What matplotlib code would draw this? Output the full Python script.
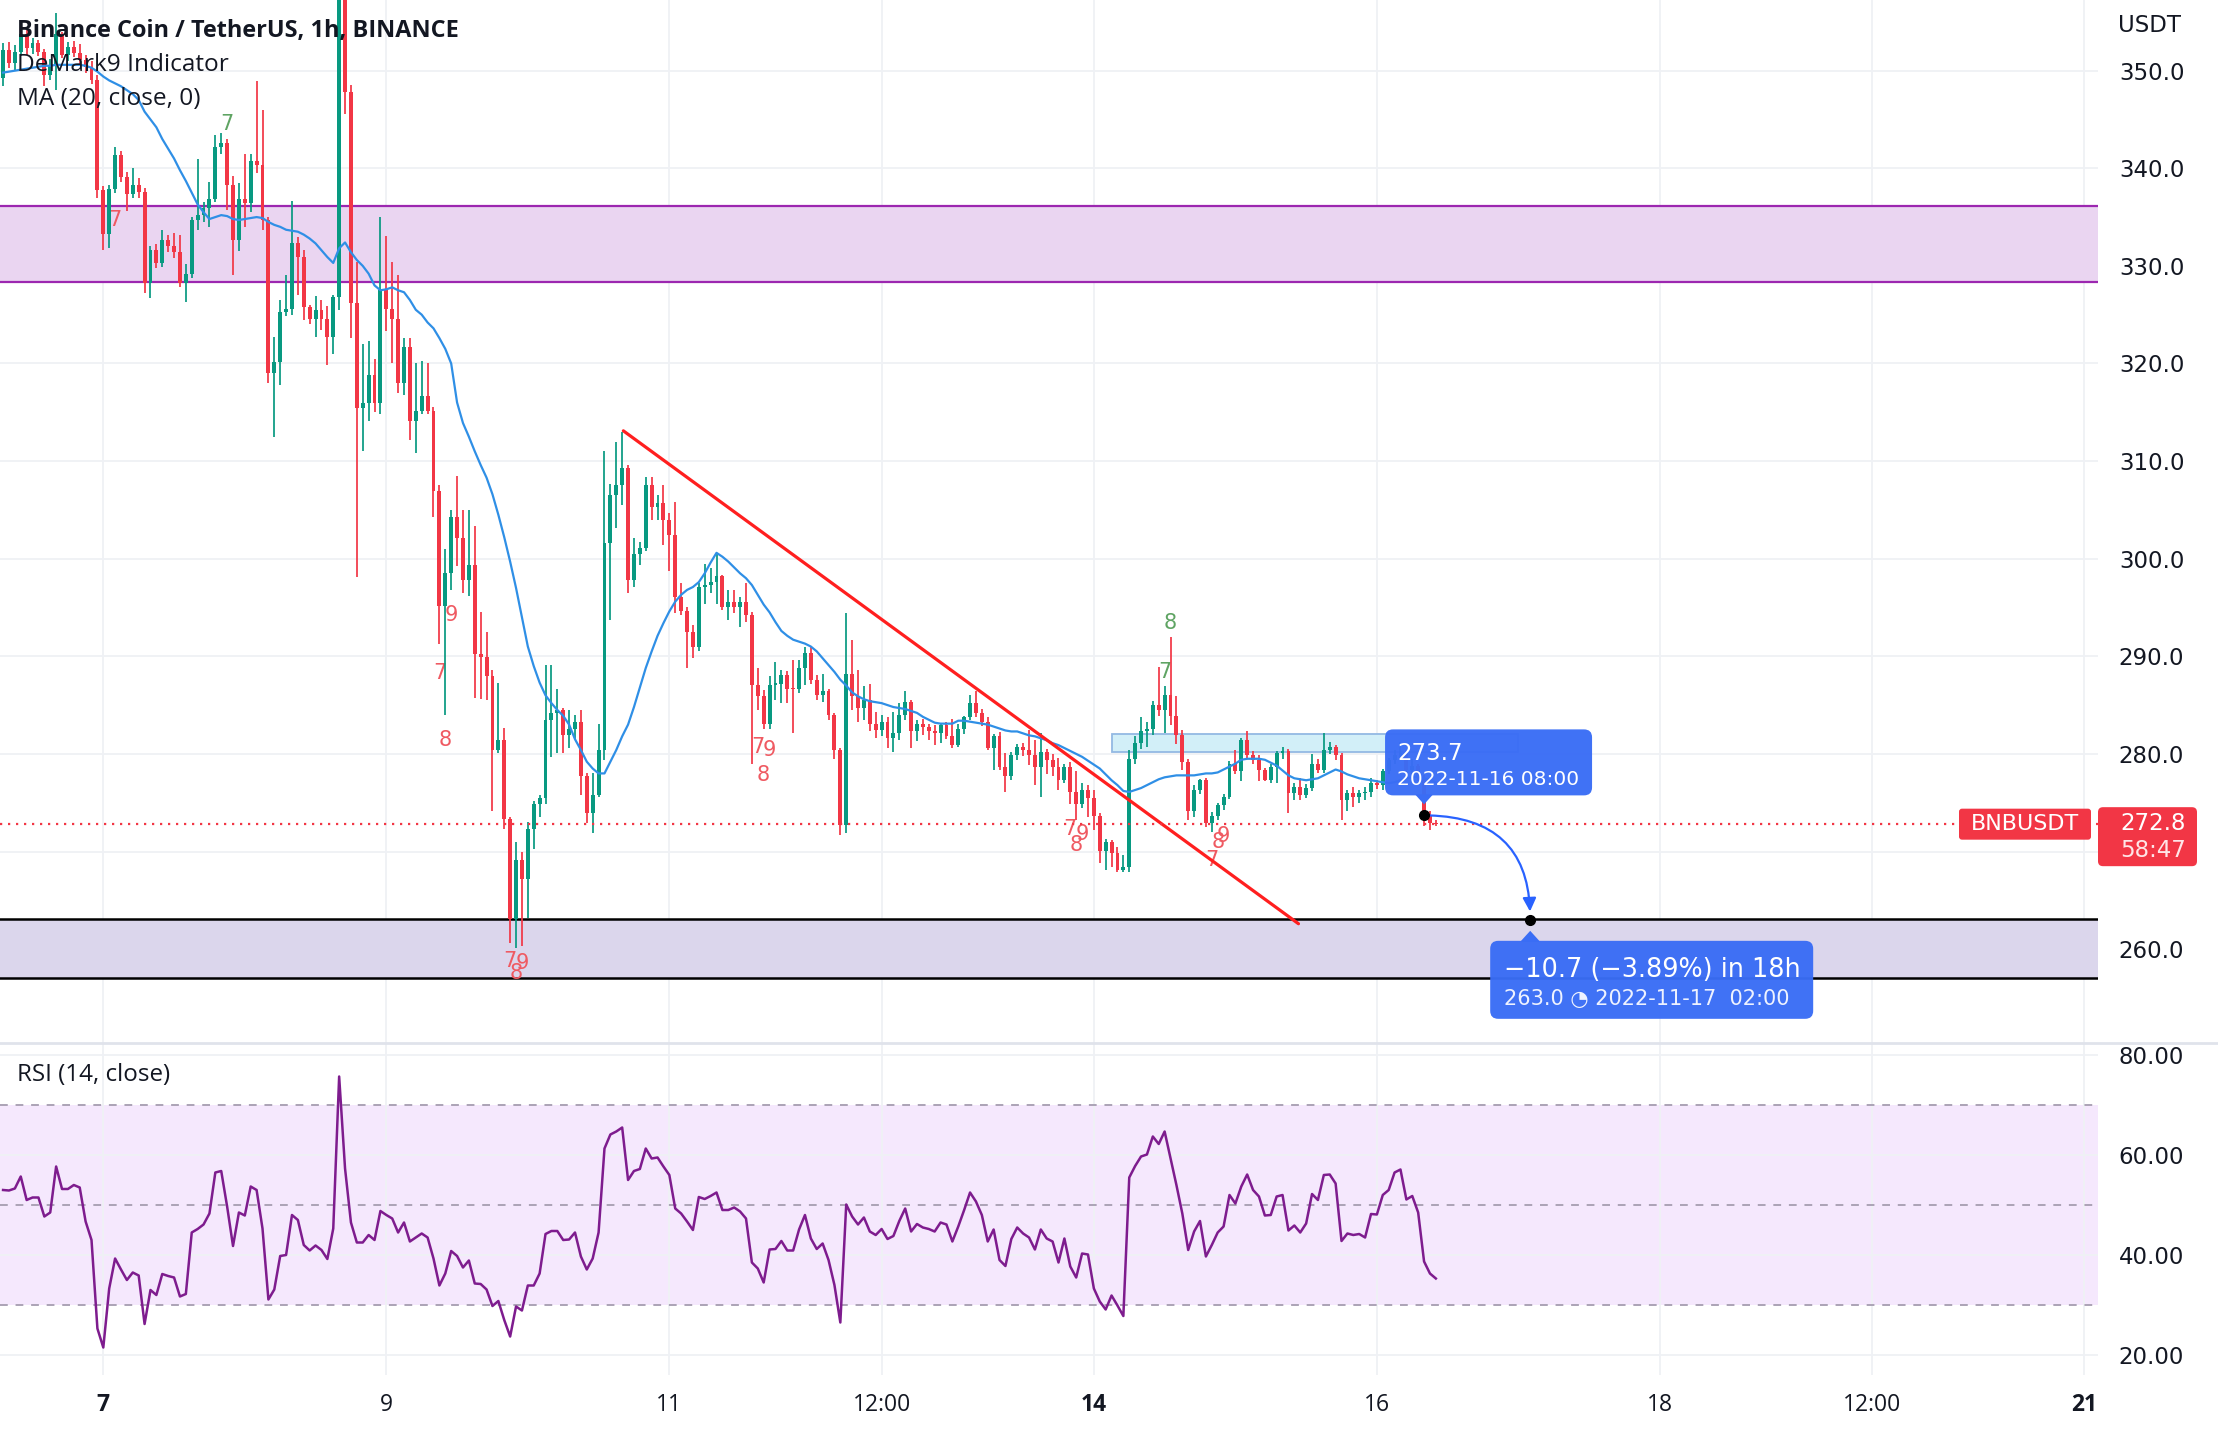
import numpy as np
import matplotlib
matplotlib.use("Agg")
import matplotlib.pyplot as plt
from matplotlib.patches import FancyArrowPatch, FancyBboxPatch, Rectangle, Polygon
from matplotlib.transforms import IdentityTransform
from matplotlib.text import Text

plt.rcParams['font.family'] = ['DejaVu Sans']

# ---------------- data (x = hours since 2022-11-07 00:00) ----------------
hours = list(range(-17, 227))

open_ = [
    349.2, 352.1, 350.8, 351.9, 353.8, 352.3, 352.8, 351.9, 349.6, 350.6,
    353.8, 351.6, 352.4, 351.8, 351.1, 350.4, 349.0, 337.8, 333.3, 337.9,
    341.4, 339.1, 337.4, 338.3, 337.6, 328.2, 331.6, 330.3, 332.6, 332.0,
    331.4, 328.2, 329.2, 334.7, 335.2, 335.9, 336.9, 342.2, 342.6, 338.3,
    332.6, 336.9, 336.4, 340.7, 340.3, 334.7, 319.0, 320.2, 325.3, 325.6,
    332.3, 330.9, 325.8, 324.6, 325.5, 324.6, 322.7, 326.8, 368.0, 347.8,
    326.2, 315.4, 315.9, 318.8, 315.9, 327.5, 325.6, 324.6, 318.0, 321.7,
    314.1, 315.1, 316.7, 315.1, 306.9, 295.2, 298.5, 304.3, 302.1, 297.8,
    299.4, 290.2, 289.9, 288.0, 280.4, 281.4, 273.3, 263.1, 269.1, 267.2,
    272.3, 274.9, 275.5, 283.5, 284.2, 284.5, 281.9, 282.6, 283.3, 277.7,
    273.9, 275.8, 280.4, 301.6, 306.5, 307.5, 309.3, 297.8, 300.5, 301.1,
    307.5, 305.3, 305.7, 304.0, 302.4, 296.1, 294.6, 292.5, 291.0, 297.1,
    297.3, 297.6, 298.2, 295.1, 295.6, 295.1, 295.6, 294.2, 287.1, 285.9,
    283.1, 287.1, 287.2, 288.1, 286.7, 286.6, 288.8, 290.3, 287.6, 286.0,
    286.4, 284.0, 280.4, 272.7, 288.2, 285.9, 284.7, 285.5, 283.1, 282.4,
    283.3, 281.6, 282.1, 284.0, 285.35, 282.3, 283.1, 282.8, 282.3, 282.1,
    283.0, 281.8, 280.9, 282.6, 283.8, 285.2, 284.2, 283.3, 280.6, 281.8,
    278.7, 277.7, 279.9, 280.7, 280.4, 279.9, 278.7, 280.2, 279.4, 278.7,
    277.3, 278.7, 276.1, 274.9, 276.3, 275.5, 273.6, 270.1, 271.0, 269.8,
    268.1, 268.4, 279.5, 281.1, 282.3, 282.6, 285.0, 284.5, 286.0, 283.9,
    281.9, 279.2, 274.2, 276.3, 277.3, 272.9, 273.6, 274.8, 275.6, 279.0,
    278.2, 281.4, 279.9, 279.4, 278.35, 277.3, 278.7, 280.1, 280.3, 276.0,
    276.6, 275.8, 276.5, 279.0, 278.35, 280.4, 280.7, 279.9, 275.3, 276.0,
    275.6, 276.0, 276.1, 277.0, 276.8, 278.2, 279.4, 279.9, 280.1, 278.35,
    278.8, 277.5, 273.7, 272.9,
]
high_ = [
    352.8, 352.9, 352.6, 354.6, 354.2, 353.3, 353.1, 352.2, 351.2, 355.9,
    354.0, 352.9, 353.0, 352.7, 351.6, 351.0, 349.6, 338.2, 338.3, 342.2,
    341.8, 339.6, 340.0, 339.0, 338.0, 332.0, 332.2, 333.7, 333.2, 333.4,
    333.2, 330.2, 335.0, 341.0, 336.5, 338.6, 343.4, 343.6, 343.0, 339.2,
    338.5, 341.5, 341.5, 348.9, 346.0, 335.0, 322.7, 326.5, 329.1, 336.6,
    333.0, 331.6, 326.0, 326.9, 326.5, 325.9, 327.0, 398.0, 372.0, 348.5,
    330.4, 322.0, 322.3, 320.5, 335.0, 333.1, 330.4, 329.1, 322.6, 322.6,
    320.0, 320.3, 320.0, 315.5, 307.5, 301.0, 305.0, 308.5, 305.0, 305.0,
    303.3, 294.5, 292.5, 288.6, 287.3, 282.7, 273.5, 271.0, 270.0, 273.0,
    275.2, 275.8, 289.1, 289.1, 286.7, 284.7, 284.5, 284.0, 284.5, 278.0,
    278.0, 283.1, 311.0, 307.7, 312.0, 313.0, 309.6, 302.1, 301.7, 308.4,
    308.4, 306.5, 307.5, 304.7, 305.8, 297.5, 295.1, 293.2, 297.5, 299.5,
    299.0, 300.5, 298.3, 296.8, 296.8, 296.1, 297.5, 294.5, 288.8, 286.5,
    288.0, 289.4, 288.6, 288.5, 289.6, 289.6, 291.0, 291.0, 288.1, 288.2,
    286.6, 284.2, 280.6, 294.4, 291.7, 288.6, 287.0, 287.2, 284.3, 284.0,
    283.8, 284.3, 285.2, 286.4, 285.5, 283.5, 283.6, 283.1, 283.0, 283.1,
    283.3, 283.6, 283.1, 283.9, 286.0, 286.4, 284.6, 283.8, 282.0, 282.2,
    280.1, 280.2, 281.0, 281.1, 282.4, 281.4, 282.1, 280.5, 280.0, 279.6,
    279.0, 279.2, 278.2, 277.0, 276.8, 276.3, 273.9, 271.3, 271.2, 270.5,
    269.6, 280.4, 281.8, 283.8, 283.3, 285.4, 288.9, 287.0, 292.0, 285.9,
    282.4, 279.5, 276.8, 277.4, 277.5, 274.0, 275.0, 275.9, 279.3, 280.4,
    281.6, 282.3, 280.3, 279.9, 278.6, 279.0, 280.3, 280.7, 280.5, 277.0,
    277.5, 276.9, 280.0, 279.5, 282.1, 281.25, 280.9, 280.1, 276.3, 276.6,
    276.3, 276.6, 277.5, 277.3, 278.5, 279.6, 280.4, 281.2, 280.4, 279.5,
    279.0, 277.8, 274.2, 273.2,
]
low_ = [
    348.4, 350.3, 350.0, 351.5, 351.6, 351.7, 351.5, 348.4, 349.0, 348.0,
    351.3, 351.0, 351.4, 350.6, 349.8, 348.6, 337.0, 331.6, 331.8, 337.5,
    338.6, 335.6, 337.0, 337.0, 327.2, 326.7, 329.8, 329.9, 331.4, 330.8,
    327.8, 326.3, 328.8, 333.7, 334.5, 334.0, 336.5, 341.5, 335.7, 329.1,
    331.5, 334.0, 335.5, 339.5, 333.7, 318.0, 312.5, 317.8, 324.9, 325.0,
    327.0, 324.5, 324.0, 322.7, 323.4, 319.8, 321.0, 325.5, 345.6, 322.6,
    298.1, 311.0, 314.1, 315.0, 314.8, 323.3, 320.0, 317.0, 316.8, 312.2,
    310.8, 314.8, 314.8, 304.3, 291.3, 284.0, 296.8, 299.2, 296.5, 296.2,
    285.7, 285.6, 285.5, 274.2, 280.1, 272.3, 260.6, 260.1, 260.3, 263.2,
    270.3, 273.5, 274.9, 279.7, 280.1, 280.1, 280.6, 281.5, 275.8, 272.9,
    271.9, 275.6, 279.4, 293.7, 303.1, 305.5, 296.5, 297.1, 299.4, 300.8,
    304.0, 304.0, 301.4, 298.7, 294.4, 294.2, 288.8, 289.8, 290.5, 295.4,
    296.5, 295.4, 294.7, 293.7, 294.4, 293.0, 293.5, 279.0, 284.5, 282.6,
    282.6, 285.5, 285.2, 285.2, 282.1, 286.2, 287.1, 287.2, 285.5, 285.3,
    283.5, 279.5, 271.7, 271.9, 284.5, 283.3, 283.5, 282.3, 281.6, 281.8,
    280.6, 280.2, 281.4, 283.5, 280.6, 281.3, 281.9, 281.4, 280.9, 281.1,
    281.5, 280.6, 280.7, 282.0, 283.5, 283.8, 282.9, 280.4, 278.4, 278.4,
    276.1, 277.3, 279.4, 279.8, 278.9, 276.8, 275.6, 277.9, 277.7, 276.3,
    277.0, 274.9, 273.2, 274.5, 273.5, 272.2, 268.8, 268.1, 268.4, 267.9,
    267.9, 267.9, 279.0, 280.5, 280.7, 281.9, 283.9, 282.1, 283.0, 281.0,
    278.4, 273.2, 273.5, 275.9, 272.5, 272.0, 273.2, 274.3, 275.4, 277.9,
    277.2, 279.6, 279.0, 277.2, 277.2, 277.0, 277.0, 279.5, 273.9, 275.3,
    275.3, 275.5, 276.2, 278.0, 278.0, 280.0, 279.4, 273.2, 274.2, 274.6,
    275.0, 275.3, 275.6, 276.4, 276.3, 277.9, 279.0, 279.5, 278.0, 277.9,
    277.2, 272.6, 272.2, 272.6,
]
close_ = [
    352.1, 350.8, 351.9, 353.8, 352.3, 352.8, 351.9, 349.6, 350.6, 353.8,
    351.6, 352.4, 351.8, 351.1, 350.4, 349.0, 337.8, 333.3, 337.9, 341.4,
    339.1, 337.4, 338.3, 337.6, 328.2, 331.6, 330.3, 332.6, 332.0, 331.4,
    328.2, 329.2, 334.7, 335.2, 335.9, 336.9, 342.2, 342.6, 338.3, 332.6,
    336.9, 336.4, 340.7, 340.3, 334.7, 319.0, 320.2, 325.3, 325.6, 332.3,
    330.9, 325.8, 324.6, 325.5, 324.6, 322.7, 326.8, 368.0, 347.8, 326.2,
    315.4, 315.9, 318.8, 315.9, 327.5, 325.6, 324.6, 318.0, 321.7, 314.1,
    315.1, 316.7, 315.1, 306.9, 295.2, 298.5, 304.3, 302.1, 297.8, 299.4,
    290.2, 289.9, 288.0, 280.4, 281.4, 273.3, 263.1, 269.1, 267.2, 272.3,
    274.9, 275.5, 283.5, 284.2, 284.5, 281.9, 282.6, 283.3, 277.7, 273.9,
    275.8, 280.4, 301.6, 306.5, 307.5, 309.3, 297.8, 300.5, 301.1, 307.5,
    305.3, 305.7, 304.0, 302.4, 296.1, 294.6, 292.5, 291.0, 297.1, 297.3,
    297.6, 298.2, 295.1, 295.6, 295.1, 295.6, 294.2, 287.1, 285.9, 283.1,
    287.1, 287.2, 288.1, 286.7, 286.6, 288.8, 290.3, 287.6, 286.0, 286.4,
    284.0, 280.4, 272.7, 288.2, 285.9, 284.7, 285.5, 283.1, 282.4, 283.3,
    281.6, 282.1, 284.0, 285.35, 282.3, 283.1, 282.8, 282.3, 282.1, 283.0,
    281.8, 280.9, 282.6, 283.8, 285.2, 284.2, 283.3, 280.6, 281.8, 278.7,
    277.7, 279.9, 280.7, 280.4, 279.9, 278.7, 280.2, 279.4, 278.7, 277.3,
    278.7, 276.1, 274.9, 276.3, 275.5, 273.6, 270.1, 271.0, 269.8, 268.1,
    268.4, 279.5, 281.1, 282.3, 282.6, 285.0, 284.5, 286.0, 283.9, 281.9,
    279.2, 274.2, 276.3, 277.3, 272.9, 273.6, 274.8, 275.6, 279.0, 278.2,
    281.4, 279.9, 279.4, 278.35, 277.3, 278.7, 280.1, 280.3, 276.0, 276.6,
    275.8, 276.5, 279.0, 278.35, 280.4, 280.7, 279.9, 275.3, 276.0, 275.6,
    276.0, 276.1, 277.0, 276.8, 278.2, 279.4, 279.9, 280.1, 278.35, 278.8,
    277.5, 273.7, 272.9, 272.8,
]
ma20 = [
    349.8, 349.9, 350.0, 350.1, 350.2, 350.3, 350.4, 350.5, 350.5, 350.6,
    350.6, 350.6, 350.6, 350.6, 350.5, 350.3, 349.9, 349.4, 349.0, 348.7,
    348.4, 348.0, 347.6, 347.0, 345.8, 345.0, 344.2, 343.0, 342.0, 341.0,
    339.8, 338.7, 337.5, 336.3, 335.5, 334.8, 335.0, 335.2, 335.1, 334.8,
    334.7, 334.8, 334.9, 335.0, 334.9, 334.5, 334.2, 334.0, 333.7, 333.6,
    333.5, 333.2, 332.8, 332.3, 331.6, 330.9, 330.3, 331.8, 332.4, 331.4,
    330.6, 330.0, 329.2, 328.0, 327.5, 327.6, 327.8, 327.5, 327.3, 326.5,
    325.5, 325.0, 324.2, 323.6, 322.6, 321.5, 320.0, 316.0, 313.9, 312.5,
    311.0, 309.6, 308.3, 306.6, 304.5, 302.2, 299.7, 297.0, 294.0, 291.0,
    289.0, 287.3, 286.0, 285.2, 284.5, 283.9, 283.0, 281.5, 280.4, 279.2,
    278.5, 278.0, 278.0, 279.2, 280.4, 281.8, 283.0, 284.8, 286.8, 288.8,
    290.5, 292.1, 293.4, 294.6, 295.6, 296.3, 296.8, 297.1, 297.6, 298.5,
    299.6, 300.6, 300.2, 299.7, 299.1, 298.5, 298.0, 297.3, 296.3, 295.3,
    294.5, 293.5, 292.6, 292.1, 291.7, 291.5, 291.3, 291.0, 290.5, 289.8,
    289.1, 288.4, 287.6, 287.0, 286.3, 285.9, 285.6, 285.4, 285.3, 285.2,
    285.0, 284.8, 284.7, 284.6, 284.4, 284.2, 283.8, 283.5, 283.2, 283.1,
    283.1, 283.1, 283.4, 283.4, 283.3, 283.2, 283.1, 283.0, 282.8, 282.6,
    282.4, 282.3, 282.3, 282.1, 281.9, 281.8, 281.6, 281.4, 281.1, 280.9,
    280.6, 280.3, 280.0, 279.7, 279.3, 278.9, 278.5, 277.9, 277.3, 276.8,
    276.2, 276.1, 276.3, 276.5, 276.8, 277.1, 277.4, 277.6, 277.7, 277.8,
    277.8, 277.8, 277.8, 277.9, 278.0, 278.0, 278.1, 278.4, 278.7, 279.0,
    279.4, 279.5, 279.5, 279.5, 279.4, 279.1, 278.8, 278.3, 277.8, 277.5,
    277.4, 277.3, 277.4, 277.5, 277.8, 278.1, 278.4, 278.2, 277.9, 277.7,
    277.5, 277.4, 277.3, 277.2, 277.1, 277.0, 277.1, 277.3, 277.5, 277.6,
    277.7, 277.5, 277.3, 277.1,
]
rsi14 = [
    53.0, 52.9, 53.3, 55.7, 51.0, 51.5, 51.5, 47.7, 48.5, 57.7,
    53.2, 53.2, 54.0, 53.5, 46.7, 43.0, 25.3, 21.5, 33.3, 39.3,
    37.1, 35.0, 36.5, 35.9, 26.2, 33.0, 32.0, 36.2, 35.8, 35.5,
    31.7, 32.2, 44.5, 45.2, 46.1, 48.3, 56.5, 56.8, 49.7, 41.8,
    48.5, 47.9, 53.7, 53.0, 45.3, 31.1, 33.1, 39.8, 40.0, 48.0,
    47.0, 42.0, 40.9, 41.9, 41.0, 39.2, 45.3, 75.7, 57.3, 46.5,
    42.5, 42.5, 44.0, 43.0, 48.8, 48.0, 47.3, 44.5, 46.5, 42.7,
    43.5, 44.3, 43.5, 39.3, 33.9, 36.3, 40.8, 39.8, 37.5, 38.9,
    34.3, 34.2, 33.1, 29.8, 30.8, 27.0, 23.7, 29.7, 28.9, 33.9,
    33.9, 36.3, 44.2, 44.8, 44.8, 43.0, 43.1, 44.5, 39.7, 37.1,
    39.3, 44.5, 61.3, 64.1, 64.7, 65.5, 55.0, 56.8, 57.2, 61.3,
    59.3, 59.5, 57.7, 56.0, 49.3, 48.3, 46.7, 45.0, 51.6, 51.2,
    51.8, 52.5, 49.0, 49.0, 49.5, 48.7, 47.3, 38.5, 37.3, 34.5,
    41.1, 41.2, 42.8, 40.9, 40.9, 45.1, 48.0, 43.3, 41.2, 42.3,
    39.0, 34.0, 26.5, 50.1, 47.7, 46.1, 47.5, 44.7, 44.0, 45.2,
    43.2, 43.8, 46.8, 49.3, 44.7, 46.2, 45.5, 45.2, 44.7, 46.5,
    46.1, 42.7, 45.7, 49.0, 52.5, 50.7, 48.0, 42.7, 45.1, 39.0,
    37.8, 43.2, 45.5, 44.3, 43.5, 41.1, 45.1, 43.3, 42.7, 38.5,
    43.3, 37.7, 35.5, 40.3, 40.1, 33.3, 30.7, 29.1, 31.9, 29.9,
    27.8, 55.5, 57.8, 59.7, 60.1, 63.7, 62.2, 64.7, 59.3, 54.0,
    48.3, 41.0, 44.7, 46.8, 39.7, 42.0, 44.5, 45.7, 52.0, 50.3,
    53.7, 56.1, 53.0, 51.7, 47.9, 48.0, 51.7, 52.0, 44.9, 45.9,
    44.5, 46.3, 52.2, 51.0, 56.0, 56.1, 54.3, 42.8, 44.3, 44.0,
    44.2, 43.5, 48.2, 48.1, 52.0, 53.0, 56.5, 57.1, 51.1, 51.8,
    48.5, 38.7, 36.3, 35.3,
]

# DeMark9 count labels
dm_x = [2, 21, 57, 58, 59, 69, 70, 71, 111, 112, 113, 164, 165, 166, 180, 181, 188, 189, 190]
dm_y = [334.7, 344.5, 288.3, 281.4, 294.2, 258.8, 257.6, 258.6, 280.7, 277.8, 280.4,
        272.3, 270.7, 271.8, 288.4, 293.4, 269.1, 271.0, 271.6]
dm_txt = ['7', '7', '7', '8', '9', '7', '8', '9', '7', '8', '9', '7', '8', '9', '7', '8', '7', '8', '9']
dm_up = [False, True, False, False, False, False, False, False, False, False, False,
         False, False, False, True, True, False, False, False]

# drawings
zone_hi = [328.3, 336.1]
zone_lo = [257.0, 263.1]
trend_x = [88.2, 202.7]
trend_y = [313.1, 262.6]
rect_x = [171, 240]
rect_y = [280.2, 282.0]
fc_x = [224, 242]
fc_y = [273.7, 263.0]
fc_text = ['2022-11-16 08:00', '\u221210.7 (\u22123.89%) in 18h', '2022-11-17  02:00']

price_ticks = [260, 270, 280, 290, 300, 310, 320, 330, 340, 350]
rsi_ticks = [20, 40, 60, 80]
xtick_pos = [0, 48, 96, 132, 168, 216, 264, 300, 336]
xtick_lab = ['7', '9', '11', '12:00', '14', '16', '18', '12:00', '21']
xtick_bold = [True, False, False, False, True, False, False, False, True]

# ---------------- figure ----------------
W, H = 2218, 1432
UP, DOWN = '#089981', '#F23645'
TXT = '#131722'
GRID = '#EFF1F5'
BLUE = '#3A6DF5'

fig = plt.figure(figsize=(W / 100, H / 100), dpi=100, facecolor='white')
PR = 2098
ax = fig.add_axes([0, 1 - 1043 / H, PR / W, 1043 / H])
rax = fig.add_axes([0, (H - 1375) / H, PR / W, (1375 - 1043) / H])
for a in (ax, rax):
    a.set_xlim(-17.52, 338.3)
    for s in a.spines.values():
        s.set_visible(False)
    a.set_facecolor('white')
    a.set_axisbelow(True)
ax.set_ylim(250.38, 357.24)
rax.set_ylim(16.0, 82.4)

# grid and ticks
ax.set_yticks(price_ticks)
ax.set_yticklabels([f'{v:.1f}' for v in price_ticks])
ax.set_xticks(xtick_pos)
ax.tick_params(axis='x', labelbottom=False, length=0)
ax.yaxis.tick_right()
ax.tick_params(axis='y', length=0, pad=15, labelsize=16.5, labelcolor=TXT)
ax.grid(True, color=GRID, lw=1.3)

rax.set_yticks(rsi_ticks)
rax.set_yticklabels([f'{v:.2f}' for v in rsi_ticks])
rax.yaxis.tick_right()
rax.tick_params(axis='y', length=0, pad=15, labelsize=16.5, labelcolor=TXT)
rax.set_xticks(xtick_pos)
rax.set_xticklabels(xtick_lab)
rax.tick_params(axis='x', length=0, pad=13, labelsize=16.5, labelcolor=TXT)
for lab, b in zip(rax.get_xticklabels(), xtick_bold):
    lab.set_fontfamily('Open Sans')
    if b:
        lab.set_fontweight('bold')
rax.grid(True, color=GRID, lw=1.3)

# zones
ax.axhspan(zone_hi[0], zone_hi[1], facecolor='#EAD5F1', edgecolor='none', zorder=1)
for y in zone_hi:
    ax.axhline(y, color='#9C27B0', lw=1.6, zorder=1.5)
ax.axhspan(zone_lo[0], zone_lo[1], facecolor='#DBD6EC', edgecolor='none', zorder=1)
for y in zone_lo:
    ax.axhline(y, color='black', lw=1.8, zorder=1.5)
ax.add_patch(Rectangle((rect_x[0], rect_y[0]), rect_x[1] - rect_x[0], rect_y[1] - rect_y[0],
                       facecolor='#D2EFF8', edgecolor='#93B9E3', lw=1.3, zorder=1.8))

# DeMark labels
for x, y, t, u in zip(dm_x, dm_y, dm_txt, dm_up):
    ax.text(x, y, t, color='#5FA463' if u else '#EF5A62', fontsize=15, ha='center', va='center',
            zorder=2.5)

# candles
o = np.array(open_); c = np.array(close_); hi = np.array(high_); lo = np.array(low_)
hx = np.array(hours)
cols = np.where(c >= o, UP, DOWN)
ax.vlines(hx, lo, hi, colors=cols, lw=1.25, zorder=3)
ax.bar(hx, np.maximum(np.abs(c - o), 0.12), bottom=np.minimum(o, c), width=0.66,
       color=cols, linewidth=0, zorder=4)

# MA
ax.plot(hx, ma20, color='#2F8FE6', lw=1.6, zorder=5)

# trend line
ax.plot(trend_x, trend_y, color='#FF1F1F', lw=2.3, zorder=6, solid_capstyle='round')

# last price line
ax.axhline(close_[-1], color='#F23645', lw=1.6, ls=(0, (1, 2.6)), zorder=6)

# forecast
ax.plot(fc_x, fc_y, 'o', color='black', ms=7, zorder=9)
ax.add_patch(FancyArrowPatch((fc_x[0], fc_y[0]), (fc_x[1], fc_y[1]),
                             connectionstyle='angle3,angleA=0,angleB=90',
                             arrowstyle='-|>', mutation_scale=20, color='#2962FF',
                             lw=1.6, shrinkA=4, shrinkB=6, zorder=8))

# RSI pane
rax.axhspan(30, 70, facecolor='#F5E8FD', edgecolor='none', zorder=0.3)
for y in (30, 50, 70):
    rax.axhline(y, color='#ABA3B6', lw=1.4, ls=(0, (4, 4)), zorder=1)
rax.plot(hx, rsi14, color='#7E1C8E', lw=1.8, zorder=3)

# ---------------- overlay texts / labels (pixel coordinates) ----------------
ID = IdentityTransform()


def ftext(x, y_top, s, **kw):
    fig.add_artist(Text(x, H - y_top, s, transform=ID, **kw))


# pane separator
fig.add_artist(plt.Line2D([0, W], [H - 1043, H - 1043], transform=ID, color='#E0E3EB', lw=2))

ftext(17, 31, 'Binance Coin / TetherUS, 1h, BINANCE', fontsize=16.9, fontweight='bold',
      family='Open Sans', va='center', color=TXT)
ftext(17, 65, 'DeMark9 Indicator', fontsize=17.6, family='Open Sans', va='center', color=TXT)
ftext(17, 99, 'MA (20, close, 0)', fontsize=17.6, family='Open Sans', va='center', color=TXT)
ftext(17, 1075, 'RSI (14, close)', fontsize=17.4, family='Open Sans', va='center', color=TXT)
ftext(2118, 26, 'USDT', fontsize=16.5, va='center', color=TXT)

# forecast label boxes
bx, by = ax.transData.transform((fc_x[0], fc_y[0]))
fig.add_artist(FancyBboxPatch((bx - 39, by + 20), 207, 66, boxstyle='round,pad=0,rounding_size=8',
                              transform=ID, fc=BLUE, ec='none', alpha=0.97))
fig.add_artist(Polygon([[bx - 9, by + 21], [bx + 9, by + 21], [bx, by + 11]], closed=True,
                       transform=ID, fc=BLUE, ec='none'))
fig.add_artist(Text(bx - 27, by + 62, f'{fc_y[0]:.1f}', transform=ID, fontsize=16.5,
                    color='white', va='center'))
fig.add_artist(Text(bx - 27, by + 36, fc_text[0], transform=ID, fontsize=14.5,
                    color='white', va='center'))

bx2, by2 = ax.transData.transform((fc_x[1], fc_y[1]))
fig.add_artist(FancyBboxPatch((bx2 - 40, by2 - 99), 323, 78, boxstyle='round,pad=0,rounding_size=8',
                              transform=ID, fc=BLUE, ec='none', alpha=0.97))
fig.add_artist(Polygon([[bx2 - 10, by2 - 22], [bx2 + 10, by2 - 22], [bx2, by2 - 11]], closed=True,
                       transform=ID, fc=BLUE, ec='none'))
fig.add_artist(Text(bx2 - 26, by2 - 50, fc_text[1], transform=ID, fontsize=18.4,
                    color='white', va='center'))
fig.add_artist(Text(bx2 - 26, by2 - 79, f'{fc_y[1]:.1f} \u25D4 ' + fc_text[2], transform=ID,
                    fontsize=15, color='#EEF2FF', va='center'))

# last price labels
_, ly = ax.transData.transform((0, close_[-1]))
fig.add_artist(FancyBboxPatch((1959, ly - 15.5), 132, 31, boxstyle='round,pad=0,rounding_size=3',
                              transform=ID, fc='#F23645', ec='none'))
fig.add_artist(Text(2025, ly, 'BNBUSDT', transform=ID, fontsize=16, color='white',
                    ha='center', va='center'))
fig.add_artist(FancyBboxPatch((2098, ly - 42), 99, 59, boxstyle='round,pad=0,rounding_size=5',
                              transform=ID, fc='#F23645', ec='none'))
fig.add_artist(Text(2120, ly + 1, f'{close_[-1]:.1f}', transform=ID, fontsize=16.5, color='white',
                    va='center'))
fig.add_artist(Text(2120, ly - 26, '58:47', transform=ID, fontsize=16.5, color='#FFE5E7',
                    va='center'))

fig.savefig('out.png', dpi=100, facecolor='white')
